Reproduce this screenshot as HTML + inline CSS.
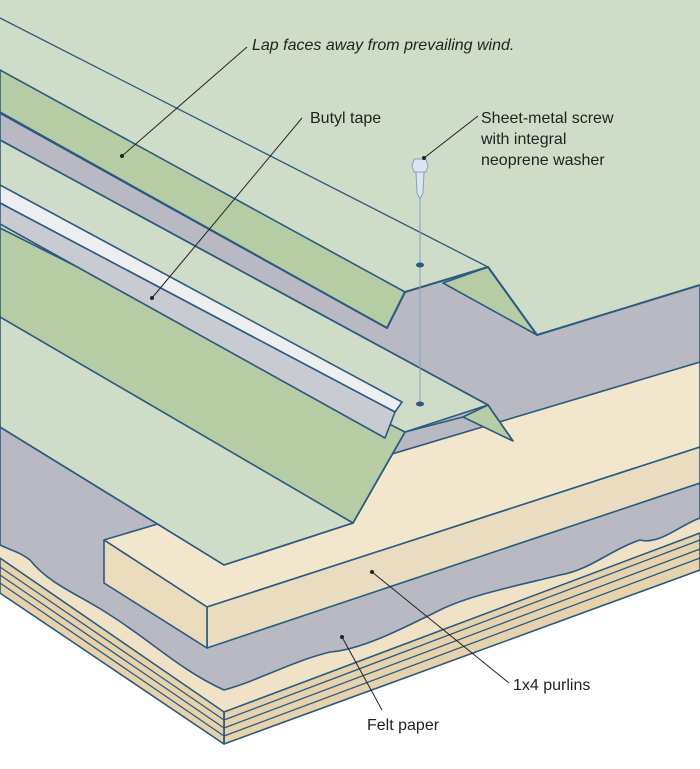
<!DOCTYPE html>
<html><head><meta charset="utf-8"><style>
html,body{margin:0;padding:0;background:#fff}
svg{display:block}
text{font-family:"Liberation Sans",sans-serif;fill:#222;font-size:16px}
</style></head><body>
<svg width="700" height="769" viewBox="0 0 700 769" xmlns="http://www.w3.org/2000/svg">
<g stroke="#2b5a80" stroke-width="1.6" stroke-linejoin="round">
<!-- deck -->
<polygon points="0,520 224,670 700,490 700,533 224,712 0,558" fill="#f0e2c6" stroke="none"/>
<polygon points="224,712 700,533 700,570 224,744" fill="#e6d3ad"/>
<polygon points="0,558 224,712 224,744 0,593" fill="#e6d3ad"/>
<g fill="none" stroke-width="1.3">
<path d="M0,567 L224,720 L700,540"/><path d="M0,575 L224,728 L700,549"/><path d="M0,583 L224,736 L700,558"/>
<line x1="224" y1="712" x2="224" y2="744"/>
</g>
<!-- felt grey -->
<path d="M0,0 L700,0 L700,518 C680,525 660,545 640,540 C610,550 590,570 560,575 C520,585 470,595 440,610 C400,630 360,650 330,652 C290,662 260,680 224,690 C180,670 150,640 110,615 C80,595 50,585 30,560 C20,552 10,550 0,545 Z" fill="#b8b9c2"/>
<!-- purlin -->
<polygon points="104,540 700,362 700,447 207,607" fill="#f2e6cc"/>
<polygon points="207,607 700,447 700,483 207,648" fill="#e9dcc0"/>
<polygon points="104,540 207,607 207,648 104,583" fill="#eadbbd"/>
<!-- lower sheet -->
<polygon points="0,140 488,405 405,432 353,523 224,565 0,427" fill="#cfdcc7"/>
<polygon points="0,228 405,432 353,523 0,317" fill="#b6cca5"/>
<polygon points="463,417 488,405 513,441" fill="#b6cca5"/>
<polyline points="0,140 488,405 513,441" fill="none"/>
<polyline points="463,417 405,432 353,523 224,565 0,427" fill="none"/>
<line x1="0" y1="228" x2="405" y2="432" stroke-width="1.2"/>
<line x1="0" y1="317" x2="353" y2="523" stroke-width="1"/>
<!-- butyl tape -->
<polygon points="0,185 402,402 395,412 0,203" fill="#eceef0"/>
<polygon points="0,203 395,412 385,438 0,224" fill="#c9cbd3"/>
<line x1="0" y1="224" x2="385" y2="438" stroke-width="1.2"/>
<!-- upper sheet -->
<polygon points="0,0 700,0 700,285 537,335 488,267 405,292 387,328 0,112" fill="#cfdcc7" stroke="none"/>
<polygon points="0,70 405,292 387,328 0,112" fill="#b6cca5"/>
<polygon points="443,283 488,267 537,335" fill="#b6cca5"/>
<polyline points="0,113 387,328 405,292 488,267 537,335 700,285" fill="none" stroke-width="2"/>
<line x1="0" y1="18" x2="488" y2="267" stroke-width="1.3"/>
<!-- screw -->
<line x1="420" y1="198" x2="420" y2="404" stroke="#7fa3c0" stroke-width="1"/>
<ellipse cx="420" cy="265" rx="4" ry="2.5" fill="#2b5a80" stroke="none"/>
<ellipse cx="420" cy="404" rx="4" ry="2.5" fill="#2b5a80" stroke="none"/>
<path d="M414,159 L426,159 L428,166 L426,172 L414,172 L412,166 Z" fill="#dde4ee" stroke="#7fa3c0" stroke-width="1"/>
<path d="M416,172 L424,172 L423,193 L420,199 L417,193 Z" fill="#dde4ee" stroke="#7fa3c0" stroke-width="1"/>
</g>
<!-- leaders -->
<g stroke="#222" stroke-width="1" fill="none">
<line x1="247" y1="47" x2="122" y2="156"/>
<line x1="302" y1="118" x2="152" y2="298"/>
<line x1="478" y1="116" x2="424" y2="158"/>
<line x1="509" y1="683" x2="372" y2="572"/>
<line x1="382" y1="710" x2="342" y2="637"/>
</g>
<g fill="#222">
<circle cx="122" cy="156" r="2"/><circle cx="152" cy="298" r="2"/><circle cx="424" cy="158" r="2"/>
<circle cx="372" cy="572" r="2"/><circle cx="342" cy="637" r="2"/>
</g>
<text x="252" y="50" font-style="italic">Lap faces away from prevailing wind.</text>
<text x="310" y="123">Butyl tape</text>
<text x="481" y="123">Sheet-metal screw</text>
<text x="481" y="144">with integral</text>
<text x="481" y="165">neoprene washer</text>
<text x="513" y="690">1x4 purlins</text>
<text x="367" y="730">Felt paper</text>
</svg>
</body></html>
